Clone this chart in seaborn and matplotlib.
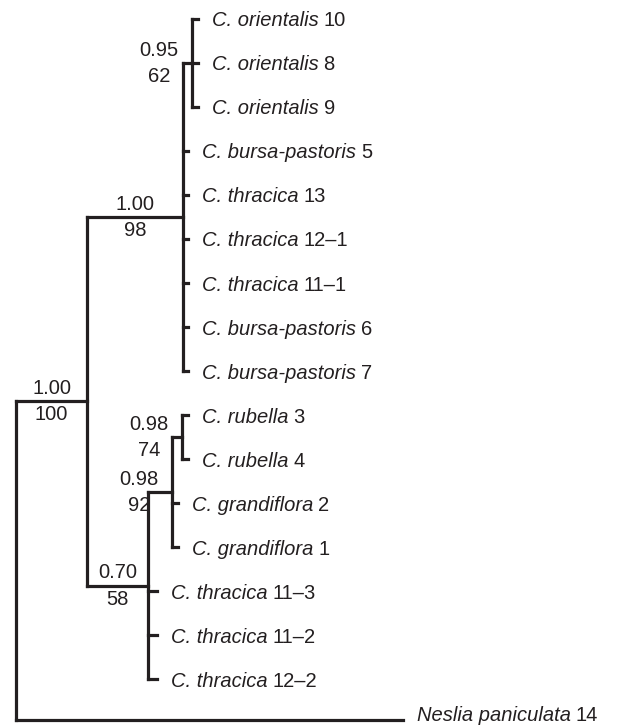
# -*- coding: utf-8 -*-
"""
Phylogram of Capsella accessions with Neslia paniculata as outgroup.
Posterior probability above / bootstrap below each supported node.
"""

# %% Import packages

import numpy as np
import pandas as pd
import matplotlib
matplotlib.use('Agg')
import matplotlib.pyplot as plt
import seaborn as sns

# %% Set-up

sns.set_style('white')
plt.rcParams['font.family'] = ['Liberation Sans', 'DejaVu Sans']

# %% Tree data

#Leaf labels (italic species part + accession number), top to bottom
leaf_species = ['C. orientalis', 'C. orientalis', 'C. orientalis',
                'C. bursa-pastoris', 'C. thracica', 'C. thracica',
                'C. thracica', 'C. bursa-pastoris', 'C. bursa-pastoris',
                'C. rubella', 'C. rubella', 'C. grandiflora', 'C. grandiflora',
                'C. thracica', 'C. thracica', 'C. thracica',
                'Neslia paniculata']
leaf_numbers = ['10', '8', '9', '5', '13', '12–1', '11–1', '6', '7',
                '3', '4', '2', '1', '11–3', '11–2', '12–2', '14']
#Row of each leaf (outgroup sits a bit closer)
leaf_rows = [0, 1, 2, 3, 4, 5, 6, 7, 8, 9, 10, 11, 12, 13, 14, 15, 15.93]
#Distance of each tip from the root
leaf_depth = [182, 182, 182, 172, 172, 172, 172, 172, 172,
              172, 172, 162, 162, 141, 141, 141, 387]

#Internal nodes: children are leaf indices (int) or node names (str)
node_names = ['root', 'capsella', 'cladeA', 'orient', 'cladeB', 'rubgra', 'rub']
node_children = [['capsella', 16],
                 ['cladeA', 'cladeB'],
                 ['orient', 3, 4, 5, 6, 7, 8],
                 [0, 1, 2],
                 ['rubgra', 13, 14, 15],
                 ['rub', 11, 12],
                 [9, 10]]
node_depth = [0, 71, 167, 176, 132, 156, 166]
node_pp = ['', '1.00', '1.00', '0.95', '0.70', '0.98', '0.98']
node_bs = ['', '100', '98', '62', '58', '92', '74']

# %% Layout

nodeIdx = {n: i for i, n in enumerate(node_names)}

def getXY(child):
    if isinstance(child, str):
        i = nodeIdx[child]
        kids = [getXY(c) for c in node_children[i]]
        return node_depth[i], (kids[0][1] + kids[-1][1]) / 2
    return leaf_depth[child], leaf_rows[child]

#Build line segments
segs = []
parentX = {}
for i, name in enumerate(node_names):
    nx, ny = getXY(name)
    kids = [getXY(c) for c in node_children[i]]
    segs.append([(nx, kids[0][1]), (nx, kids[-1][1])])
    for c, (cx, cy) in zip(node_children[i], kids):
        segs.append([(nx, cy), (cx, cy)])
        if isinstance(c, str):
            parentX[c] = nx

rows = []
for s, seg in enumerate(segs):
    for (x, y) in seg:
        rows.append({'seg': s, 'x': x, 'y': y})
segDf = pd.DataFrame(rows)

# %% Plot

fig = plt.figure(figsize = (6.21, 7.27), dpi = 100)
ax = fig.add_axes([0, 0, 1, 1])

sns.lineplot(data = segDf, x = 'x', y = 'y', units = 'seg', estimator = None,
             sort = False, color = '#231f20', lw = 2.3,
             solid_capstyle = 'projecting', ax = ax, legend = False)

ax.set_xlim(-16, 605)
ax.set_ylim(16.09, -0.432)
ax.axis('off')

fs = 14.5
txtCol = '#231f20'

#Baseline shift of leaf labels below their branch (outgroup label sits higher)
baseOff = [0.17] * (len(leaf_species) - 1) + [0.03]

#Leaf labels: italic name then plain number
for i in range(len(leaf_species)):
    t = ax.text(leaf_depth[i] + 14, leaf_rows[i] + baseOff[i], leaf_species[i],
                fontsize = fs, style = 'italic', color = txtCol,
                ha = 'left', va = 'baseline')
    ax.annotate(leaf_numbers[i], xy = (1, 0), xycoords = t,
                xytext = (3.5, 0), textcoords = 'offset points',
                fontsize = fs, color = txtCol, ha = 'left', va = 'bottom')

#Support values
branchMode = ['capsella', 'cladeA', 'cladeB']
for i, name in enumerate(node_names):
    if node_pp[i] == '':
        continue
    nx, ny = getXY(name)
    if name in branchMode:
        lx = (parentX[name] + nx) / 2
    else:
        lx = nx - 33
    ax.text(lx, ny - 0.29, node_pp[i], fontsize = fs, color = txtCol,
            ha = 'center', va = 'center')
    ax.text(lx, ny + 0.31, node_bs[i], fontsize = fs, color = txtCol,
            ha = 'center', va = 'center')

fig.savefig('out.png', dpi = 100, facecolor = 'white')
